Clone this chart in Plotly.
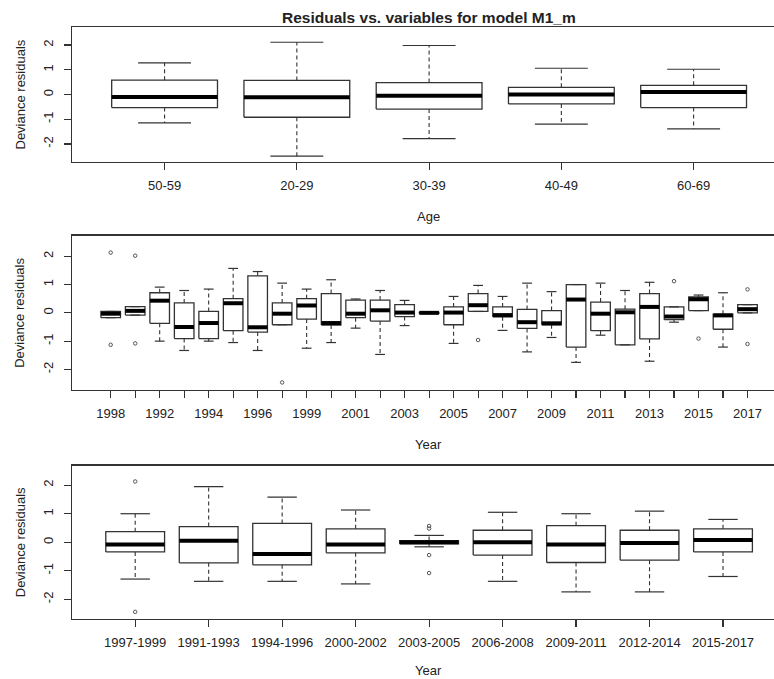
import plotly.graph_objects as go

# ---------------- data ----------------
age_labels = ["50-59", "20-29", "30-39", "40-49", "60-69"]
age_q1 = [-0.53, -0.92, -0.59, -0.38, -0.53]
age_med = [-0.10, -0.11, -0.05, 0.00, 0.10]
age_q3 = [0.58, 0.57, 0.48, 0.29, 0.37]
age_lo = [-1.15, -2.49, -1.78, -1.20, -1.39]
age_hi = [1.28, 2.11, 1.98, 1.06, 1.02]
age_out = [[], [], [], [], []]

year_labels = ["1998", "1991", "1992", "1993", "1994", "1995", "1996", "1997", "1999",
               "2000", "2001", "2002", "2003", "2004", "2005", "2006", "2007", "2008",
               "2009", "2010", "2011", "2012", "2013", "2014", "2015", "2016", "2017"]
year_ticktext = ["1998", "", "1992", "", "1994", "", "1996", "", "1999",
                 "", "2001", "", "2003", "", "2005", "", "2007", "",
                 "2009", "", "2011", "", "2013", "", "2015", "", "2017"]
year_q1 = [-0.17, -0.08, -0.37, -0.91, -0.91, -0.63, -0.68, -0.42, -0.22,
           -0.43, -0.17, -0.29, -0.13, -0.02, -0.42, 0.05, -0.14, -0.55,
           -0.42, -1.21, -0.63, -1.13, -0.92, -0.24, 0.08, -0.58, 0.00]
year_med = [-0.03, 0.07, 0.43, -0.50, -0.36, 0.34, -0.51, -0.03, 0.26,
            -0.36, -0.03, 0.09, 0.01, 0.00, 0.01, 0.27, -0.08, -0.33,
            -0.37, 0.47, -0.03, 0.02, 0.21, -0.13, 0.48, -0.09, 0.13]
year_q3 = [0.05, 0.22, 0.71, 0.35, 0.05, 0.50, 1.31, 0.35, 0.50,
           0.68, 0.45, 0.45, 0.29, 0.02, 0.21, 0.68, 0.21, 0.12,
           0.08, 1.00, 0.38, 0.13, 0.68, 0.21, 0.56, -0.05, 0.29]
year_lo = [-0.17, -0.08, -1.00, -1.33, -1.00, -1.05, -1.33, -0.42, -1.25,
           -1.05, -0.54, -1.47, -0.45, -0.02, -1.08, 0.05, -0.62, -1.38,
           -0.87, -1.75, -0.79, -1.13, -1.71, -0.33, 0.08, -1.21, 0.00]
year_hi = [0.05, 0.22, 0.91, 0.79, 0.84, 1.57, 1.46, 1.05, 0.84,
           1.17, 0.49, 0.79, 0.44, 0.02, 0.58, 0.97, 0.58, 1.05,
           0.75, 1.00, 1.05, 0.79, 1.08, 0.21, 0.63, 0.71, 0.29]
year_out = [[2.13, -1.13], [2.02, -1.08], [], [], [], [], [], [-2.46], [],
            [], [], [], [], [], [], [-0.96], [], [],
            [], [], [], [], [], [1.12], [-0.91], [], [0.83, -1.10]]

period_labels = ["1997-1999", "1991-1993", "1994-1996", "2000-2002", "2003-2005",
                 "2006-2008", "2009-2011", "2012-2014", "2015-2017"]
period_q1 = [-0.34, -0.72, -0.79, -0.37, -0.06, -0.45, -0.71, -0.63, -0.34]
period_med = [-0.08, 0.05, -0.41, -0.08, 0.00, 0.00, -0.08, -0.03, 0.08]
period_q3 = [0.37, 0.55, 0.66, 0.47, 0.06, 0.42, 0.58, 0.42, 0.47]
period_lo = [-1.29, -1.37, -1.37, -1.46, -0.16, -1.37, -1.74, -1.74, -1.20]
period_hi = [1.00, 1.95, 1.58, 1.13, 0.24, 1.05, 1.00, 1.09, 0.80]
period_out = [[2.13, -2.44], [], [], [], [0.57, 0.48, -0.45, -1.08], [], [], [], []]

y_ticks = [-2, -1, 0, 1, 2]

# ---------------- layout config ----------------
W, H = 774, 679
ML = 72
FULL_PLOT_W = 714.2          # width of the (cropped) R plot region
FONT = "Liberation Sans, Arial, sans-serif"
TXT = "#222222"
LINE = "#333333"

panels = [
    dict(labels=age_labels, ticktext=age_labels, q1=age_q1, med=age_med, q3=age_q3,
         lo=age_lo, hi=age_hi, out=age_out, xtitle="Age", top=27, bot=162, yr=2.727,
         tgap=54),
    dict(labels=year_labels, ticktext=year_ticktext, q1=year_q1, med=year_med, q3=year_q3,
         lo=year_lo, hi=year_hi, out=year_out, xtitle="Year", top=235.7, bot=390, yr=2.727,
         tgap=54),
    dict(labels=period_labels, ticktext=period_labels, q1=period_q1, med=period_med,
         q3=period_q3, lo=period_lo, hi=period_hi, out=period_out, xtitle="Year",
         top=465.5, bot=619, yr=2.69, tgap=51.5),
]

fig = go.Figure()
layout = dict(width=W, height=H, margin=dict(l=ML, r=0, t=0, b=0, autoexpand=False),
              paper_bgcolor="white", plot_bgcolor="white", showlegend=False,
              hovermode=False, font=dict(family=FONT, size=13, color=TXT))
annotations = []

def px_to_paper_y(py):
    return 1 - py / H

def px_to_paper_x(px):
    return (px - ML) / (W - ML)

for k, p in enumerate(panels):
    n = len(p["labels"])
    xs = "x" if k == 0 else f"x{k+1}"
    ys = "y" if k == 0 else f"y{k+1}"
    xa = "xaxis" if k == 0 else f"xaxis{k+1}"
    ya = "yaxis" if k == 0 else f"yaxis{k+1}"

    bx, by = [], []
    wx, wy = [], []
    cx, cy = [], []
    mx, my = [], []
    ox, oy = [], []
    hw, sw = 0.4, 0.2
    for i in range(n):
        c = i + 1
        q1, md, q3, lo, hi = p["q1"][i], p["med"][i], p["q3"][i], p["lo"][i], p["hi"][i]
        bx += [c - hw, c + hw, c + hw, c - hw, c - hw, None]
        by += [q1, q1, q3, q3, q1, None]
        if hi > q3:
            wx += [c, c, None]
            wy += [q3, hi, None]
        if lo < q1:
            wx += [c, c, None]
            wy += [q1, lo, None]
        cx += [c - sw, c + sw, None, c - sw, c + sw, None]
        cy += [hi, hi, None, lo, lo, None]
        mx += [c - hw, c + hw, None]
        my += [md, md, None]
        for o in p["out"][i]:
            ox.append(c)
            oy.append(o)

    common = dict(xaxis=xs, yaxis=ys, hoverinfo="skip", showlegend=False)
    fig.add_trace(go.Scatter(x=wx, y=wy, mode="lines",
                             line=dict(color=LINE, width=1.1, dash="4px,3px"), **common))
    fig.add_trace(go.Scatter(x=cx, y=cy, mode="lines",
                             line=dict(color=LINE, width=1.2), **common))
    fig.add_trace(go.Scatter(x=bx, y=by, mode="lines",
                             line=dict(color=LINE, width=1.3), **common))
    fig.add_trace(go.Scatter(x=mx, y=my, mode="lines",
                             line=dict(color="black", width=4), **common))
    if ox:
        fig.add_trace(go.Scatter(x=ox, y=oy, mode="markers",
                                 marker=dict(symbol="circle-open", size=3.5,
                                             color="#555555", line=dict(width=1)),
                                 **common))

    lo_x = 0.5 - 0.04 * n
    hi_x = n + 0.5 + 0.04 * n
    vis_hi = lo_x + (hi_x - lo_x) * (W - ML) / FULL_PLOT_W

    dom = [px_to_paper_y(p["bot"]), px_to_paper_y(p["top"])]
    layout[xa] = dict(domain=[0, 1], anchor=ys, range=[lo_x, vis_hi],
                      tickmode="array", tickvals=list(range(1, n + 1)),
                      ticktext=p["ticktext"], ticks="outside", ticklen=7,
                      tickwidth=1.1, tickcolor=LINE, showline=True, linecolor=LINE,
                      linewidth=1.3, mirror=True, showgrid=False, zeroline=False,
                      tickfont=dict(size=13, color=TXT, family=FONT),
                      ticklabelstandoff=4, fixedrange=True, automargin=False)
    layout[ya] = dict(domain=dom, anchor=xs, range=[-p["yr"], p["yr"]],
                      tickmode="array", tickvals=y_ticks,
                      ticktext=[str(v) for v in y_ticks], tickangle=-90,
                      ticks="outside", ticklen=7, tickwidth=1.1, tickcolor=LINE,
                      showline=True, linecolor=LINE, linewidth=1.3, mirror=False,
                      showgrid=False, zeroline=False,
                      tickfont=dict(size=13, color=TXT, family=FONT),
                      ticklabelstandoff=6, fixedrange=True, automargin=False)

    annotations.append(dict(text=p["xtitle"], xref="paper", yref="paper",
                            x=px_to_paper_x(428.8), y=px_to_paper_y(p["bot"] + p["tgap"]),
                            xanchor="center", yanchor="middle", showarrow=False,
                            font=dict(size=13, color=TXT, family=FONT)))
    annotations.append(dict(text="Deviance residuals", xref="paper", yref="paper",
                            x=px_to_paper_x(20), y=px_to_paper_y((p["top"] + p["bot"]) / 2),
                            xanchor="center", yanchor="middle", textangle=-90,
                            showarrow=False, font=dict(size=13, color=TXT, family=FONT)))

annotations.append(dict(text="<b>Residuals vs. variables for model M1_m</b>",
                        xref="paper", yref="paper", x=px_to_paper_x(428.8),
                        y=px_to_paper_y(17), xanchor="center", yanchor="middle",
                        showarrow=False, font=dict(size=15.5, color=TXT, family=FONT)))
layout["annotations"] = annotations
fig.update_layout(**layout)
fig.write_html("out.html", config={"displayModeBar": False, "staticPlot": True},
               post_script="document.body.style.margin='0';document.body.style.padding='0';")
